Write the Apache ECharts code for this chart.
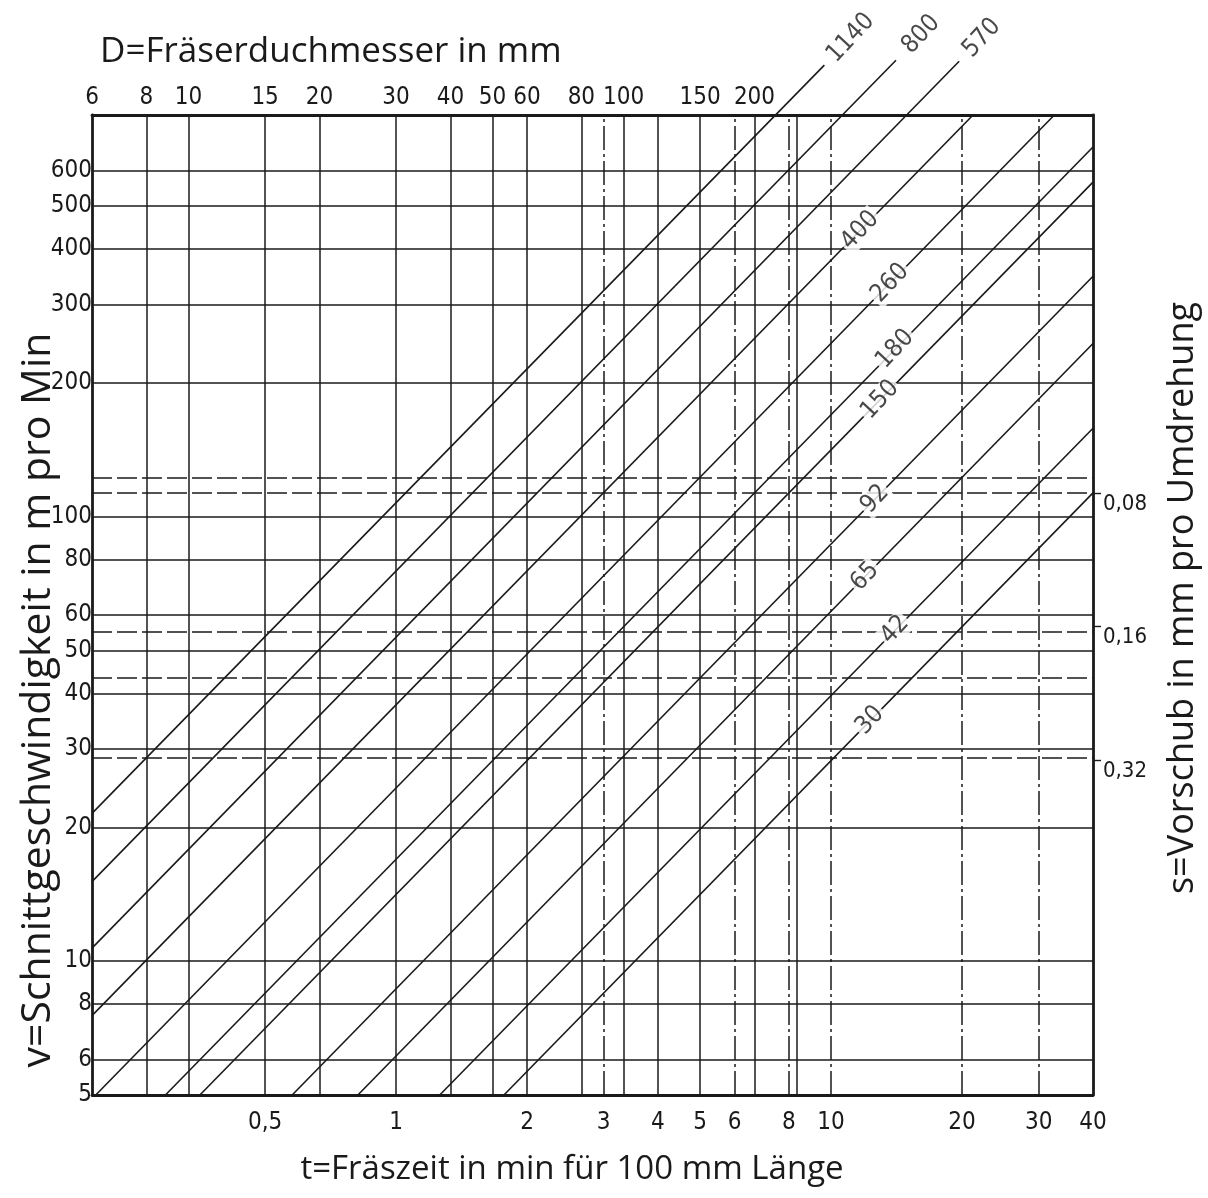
<!DOCTYPE html>
<html>
<head>
<meta charset="utf-8">
<script src="https://cdn.jsdelivr.net/npm/echarts@6/dist/echarts.min.js"></script>
<style>
html,body{margin:0;padding:0;background:#fff;}
#chart{width:1208px;height:1198px;}
</style>
</head>
<body>
<div id="chart"></div>
<script>
// ---- tick labels ----
const tTicks = [0.5, 1, 2, 3, 4, 5, 6, 8, 10, 20, 30, 40];          // t = Fräszeit (bottom)
const dTicks = [6, 8, 10, 15, 20, 30, 40, 50, 60, 80, 100, 150, 200]; // D = Fräserdurchmesser (top)
const vTicks = [5, 6, 8, 10, 20, 30, 40, 50, 60, 80, 100, 200, 300, 400, 500, 600]; // v (left)
const sTicks = [0.08, 0.16, 0.32];                                      // s (right)

// ---- grid lines ----
const dGridSolid = [8, 10, 15, 20, 30, 40, 50, 60, 80, 100, 150, 200, 250];
const tGridSolid = [4];
const tGridDashed = [3, 6, 8, 10, 20, 30];
const vGridSolid = [6, 8, 10, 20, 30, 40, 50, 60, 80, 100, 200, 300, 400, 500, 600];
const vGridDashed = [122, 113, 55, 43.3, 28.7];   // dashed feed lines, read on the v scale

// ---- diagonal lines (labels = Drehzahl), endpoints as [t, v] ----
const lineNames = ['1140', '800', '570', '400', '260', '180', '150', '92', '65', '42', '30'];
const lineStart = [[0.2, 21.5], [0.2, 15.1], [0.2, 10.7], [0.2, 7.54], [0.204, 5], [0.295, 5],
                   [0.354, 5], [0.577, 5], [0.817, 5], [1.26, 5], [1.77, 5]];
const lineEnd = [[9.65, 1036], [14.1, 1062], [19.7, 1057], [21.2, 800], [32.6, 800], [40, 678],
                 [40, 565], [40, 347], [40, 245], [40, 158], [40, 113]];
const labelPos = [[11.1, 1192], [16.1, 1214], [22.2, 1192], [11.66, 440], [13.66, 335], [14.03, 238],
                  [12.96, 183], [12.62, 109.4], [11.97, 73.3], [14.03, 55.6], [12.29, 34.8]];

const INK = '#1a1a1a';
const FONT = "'DejaVu Sans Condensed', 'Open Sans', 'DejaVu Sans', sans-serif";
const TFONT = "'Open Sans', 'DejaVu Sans', sans-serif";
const comma = v => String(v).replace('.', ',');

const chart = echarts.init(document.getElementById('chart'), null, {renderer: 'canvas'});

const gridLineStyle = {color: INK, width: 1.5, type: 'solid'};
function markLines(values, key, style) {
  return {
    silent: true, symbol: ['none', 'none'], label: {show: false},
    lineStyle: style, animation: false, precision: 4,
    data: values.map(v => ({[key]: v}))
  };
}

const series = [
  {type: 'line', xAxisIndex: 1, yAxisIndex: 0, data: [], markLine: markLines(dGridSolid, 'xAxis', gridLineStyle)},
  {type: 'line', xAxisIndex: 0, yAxisIndex: 0, data: [], markLine: markLines(tGridSolid, 'xAxis', gridLineStyle)},
  {type: 'line', xAxisIndex: 0, yAxisIndex: 0, data: [], markLine: markLines(tGridDashed, 'xAxis', {color: INK, width: 1.5, type: [24, 4, 3, 4]})},
  {type: 'line', xAxisIndex: 0, yAxisIndex: 0, data: [], markLine: markLines(vGridSolid, 'yAxis', gridLineStyle)},
  {type: 'line', xAxisIndex: 0, yAxisIndex: 0, data: [], markLine: markLines(vGridDashed, 'yAxis', {color: INK, width: 1.5, type: [20, 5]})}
];

lineNames.forEach((n, i) => {
  series.push({
    type: 'line', name: n, xAxisIndex: 0, yAxisIndex: 0,
    data: [lineStart[i], lineEnd[i]],
    symbol: 'none', clip: false, silent: true,
    lineStyle: {color: INK, width: 1.6}
  });
});

series.push({
  type: 'scatter', xAxisIndex: 0, yAxisIndex: 0, clip: false, silent: true,
  symbolSize: 0, z: 10,
  data: lineNames.map((n, i) => ({value: labelPos[i], name: n})),
  label: {
    show: true, position: 'inside', formatter: p => p.name, rotate: 47,
    fontSize: 25, fontFamily: FONT, color: INK,
    backgroundColor: '#fff', padding: [0, 2]
  }
});

const axisLineStyle = {show: true, lineStyle: {color: INK, width: 2.8}};

chart.setOption({
  animation: false,
  backgroundColor: '#fff',
  grid: {left: 92, right: 115, top: 115, bottom: 103, containLabel: false},
  xAxis: [
    {type: 'log', position: 'bottom', min: 0.2, max: 40,
     axisLine: axisLineStyle, axisTick: {show: false}, splitLine: {show: false}, minorTick: {show: false},
     axisLabel: {customValues: tTicks, formatter: comma, fontSize: 24, fontFamily: FONT, color: INK, margin: 16}},
    {type: 'log', position: 'top', min: 6, max: 1200,
     axisLine: axisLineStyle, axisTick: {show: false}, splitLine: {show: false}, minorTick: {show: false},
     axisLabel: {customValues: dTicks, formatter: comma, fontSize: 24, fontFamily: FONT, color: INK, margin: 5}}
  ],
  yAxis: [
    {type: 'log', position: 'left', min: 5, max: 800,
     axisLine: axisLineStyle, axisTick: {show: false}, splitLine: {show: false}, minorTick: {show: false},
     axisLabel: {customValues: vTicks, formatter: comma, fontSize: 24, fontFamily: FONT, color: INK, margin: 0}},
    {type: 'log', position: 'right', inverse: true, min: 0.0113, max: 1.81,
     axisLine: axisLineStyle, splitLine: {show: false}, minorTick: {show: false},
     axisTick: {show: true, customValues: sTicks, length: 8, lineStyle: {color: INK, width: 1.4}},
     axisLabel: {customValues: sTicks, formatter: comma, fontSize: 22, fontFamily: FONT, color: INK, margin: 10, verticalAlign: 'top'}}
  ],
  graphic: [
    {type: 'text', x: 100, y: 52, style: {text: 'D=Fräserduchmesser in mm', font: "35px " + TFONT, fill: INK, align: 'left', verticalAlign: 'middle', textAlign: 'left', textVerticalAlign: 'middle'}},
    {type: 'text', x: 572, y: 1170, style: {text: 't=Fräszeit in min für 100 mm Länge', font: "33px " + TFONT, fill: INK, align: 'center', verticalAlign: 'middle', textAlign: 'center', textVerticalAlign: 'middle'}},
    {type: 'text', x: 38, y: 700, rotation: Math.PI / 2, style: {text: 'v=Schnittgeschwindigkeit in m pro Min', font: "41px " + TFONT, fill: INK, align: 'center', verticalAlign: 'middle', textAlign: 'center', textVerticalAlign: 'middle'}},
    {type: 'text', x: 1183, y: 598, rotation: Math.PI / 2, style: {text: 's=Vorschub in mm pro Umdrehung', font: "36px " + TFONT, fill: INK, align: 'center', verticalAlign: 'middle', textAlign: 'center', textVerticalAlign: 'middle'}}
  ],
  series: series
});
</script>
</body>
</html>
